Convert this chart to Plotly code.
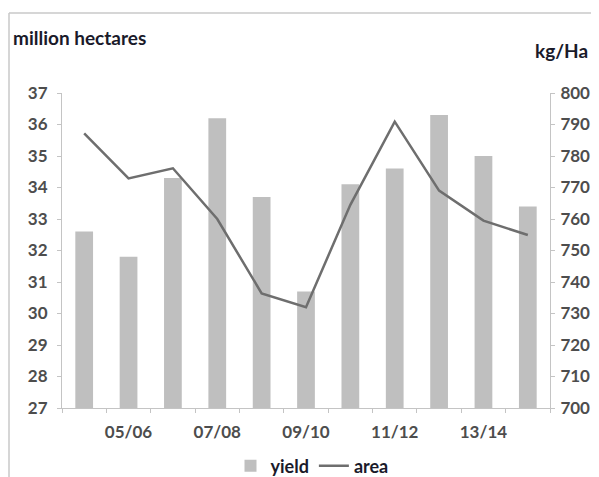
import plotly.graph_objects as go

seasons = ["04/05", "05/06", "06/07", "07/08", "08/09", "09/10",
           "10/11", "11/12", "12/13", "13/14", "14/15"]
tick_text = ["", "05/06", "", "07/08", "", "09/10", "", "11/12", "", "13/14", ""]
yield_kg_ha = [756, 748, 773, 792, 767, 737, 771, 776, 793, 780, 764]
area_mha = [35.72, 34.29, 34.61, 33.0, 30.64, 30.2, 33.45, 36.09, 33.9, 32.95, 32.49]

# page body has an 8px margin, so the figure is laid out in page pixels minus 8
OFF = 8
W, H = 599 - OFF, 477 - OFF
PL, PR, PT, PB = 62, 550, 93, 408  # plot area in page pixels
ML, MR, MT, MB = PL - OFF, W - (PR - OFF), PT - OFF, H - (PB - OFF)
PW, PH = PR - PL, PB - PT

def px_x(x):
    return (x - PL) / PW

def px_y(y):
    return (PB - y) / PH

FONT = "Lato"
TICK_COLOR = "#4d4d4d"
AX_COLOR = "#C4C4C4"
TICK_FONT = dict(family=FONT, size=17, color=TICK_COLOR, weight="bold")

fig = go.Figure()
fig.add_trace(go.Bar(
    x=seasons, y=yield_kg_ha, name="yield", yaxis="y",
    marker=dict(color="#BFBFBF", line=dict(width=0)), width=0.4,
))
fig.add_trace(go.Scatter(
    x=seasons, y=area_mha, name="area", yaxis="y2", mode="lines",
    line=dict(color="#6E6E6E", width=2.5),
))

fig.update_layout(
    width=W, height=H,
    margin=dict(l=ML, r=MR, t=MT, b=MB, autoexpand=False),
    paper_bgcolor="white", plot_bgcolor="white",
    showlegend=True,
    legend=dict(orientation="h", x=px_x(312), xanchor="center", y=px_y(466), yanchor="middle",
                font=dict(family=FONT, size=18, color="#1a1a2a", weight="bold"), itemwidth=30,
                bgcolor="rgba(0,0,0,0)"),
    xaxis=dict(
        type="category", categoryorder="array", categoryarray=seasons,
        tickmode="array", tickvals=seasons, ticktext=tick_text, tickangle=0,
        tickson="boundaries", ticks="outside", ticklen=4, tickcolor=AX_COLOR,
        showline=True, linecolor=AX_COLOR, linewidth=1, showgrid=False,
        tickfont=TICK_FONT, automargin=False,
        range=[-0.5, 10.5], ticklabelstandoff=9,
    ),
    yaxis=dict(
        side="right", range=[700, 800], tickmode="linear", tick0=700, dtick=10,
        showline=True, linecolor=AX_COLOR, linewidth=1, showgrid=False, zeroline=False,
        ticks="outside", ticklen=4, tickcolor=AX_COLOR, automargin=False,
        tickfont=TICK_FONT, ticklabelstandoff=2,
    ),
    yaxis2=dict(
        side="left", overlaying="y", range=[27, 37], tickmode="linear", tick0=27, dtick=1,
        showline=True, linecolor=AX_COLOR, linewidth=1, showgrid=False, zeroline=False,
        ticks="outside", ticklen=4, tickcolor=AX_COLOR, automargin=False,
        tickfont=TICK_FONT, ticklabelstandoff=6,
    ),
    bargap=0.6,
)

fig.add_annotation(text="million hectares", xref="paper", yref="paper",
                   x=px_x(11), y=px_y(38), xanchor="left", yanchor="middle",
                   showarrow=False,
                   font=dict(family=FONT, size=19, color="#1a1a2a", weight="bold"))
fig.add_annotation(text="kg/Ha", xref="paper", yref="paper",
                   x=px_x(590), y=px_y(50), xanchor="right", yanchor="middle",
                   showarrow=False,
                   font=dict(family=FONT, size=19, color="#1a1a2a", weight="bold"))

# frame lines
fig.add_shape(type="line", xref="paper", yref="paper",
              x0=px_x(9), x1=px_x(599), y0=px_y(13), y1=px_y(13),
              line=dict(color="#C8C8C8", width=1.5))
fig.add_shape(type="line", xref="paper", yref="paper",
              x0=px_x(9), x1=px_x(9), y0=px_y(13), y1=px_y(477),
              line=dict(color="#C8C8C8", width=1.5))

fig.write_html("out.html")
